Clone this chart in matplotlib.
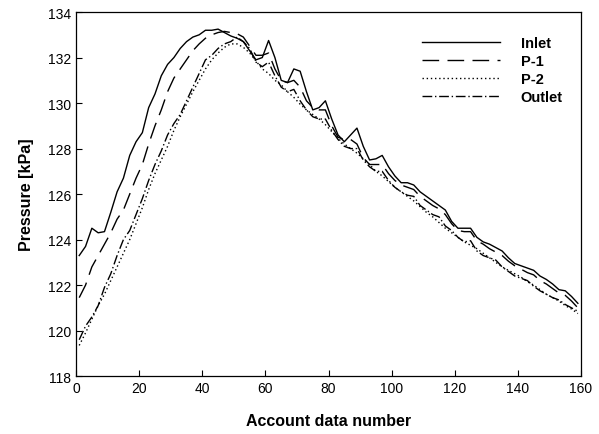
import numpy as np
import matplotlib.pyplot as plt

plt.rcParams['font.family'] = ['Liberation Sans', 'DejaVu Sans']

# account data number (every second sample)
x = np.arange(1, 161, 2)

inlet = [123.3, 123.7, 124.5, 124.3, 124.35, 125.2, 126.1, 126.7, 127.7, 128.3,
         128.7, 129.8, 130.4, 131.2, 131.7, 132.0, 132.4, 132.7, 132.9, 133.0,
         133.2, 133.2, 133.25, 133.1, 132.95, 132.85, 132.7, 132.3, 131.9, 132.0,
         132.75, 132.0, 131.0, 130.9, 131.5, 131.4, 130.5, 129.7, 129.8, 130.1,
         129.3, 128.6, 128.3, 128.6, 128.9, 128.1, 127.5, 127.55, 127.7, 127.2,
         126.8, 126.5, 126.5, 126.4, 126.1, 125.9, 125.7, 125.5, 125.3, 124.8,
         124.5, 124.5, 124.5, 124.1, 123.9, 123.8, 123.65, 123.5, 123.2, 122.95,
         122.85, 122.75, 122.65, 122.4, 122.25, 122.05, 121.8, 121.75, 121.5, 121.2]

p1 = [121.45, 122.0, 122.8, 123.3, 123.8, 124.3, 124.9, 125.3, 126.0, 126.7,
      127.3, 128.2, 129.0, 129.7, 130.5, 131.1, 131.5, 131.9, 132.3, 132.6,
      132.85, 133.0, 133.1, 133.15, 133.1, 133.05, 132.9, 132.5, 132.1, 132.1,
      132.2, 131.5, 131.0, 130.9, 131.0, 130.7, 130.1, 129.8, 129.7, 129.7,
      129.0, 128.5, 128.4, 128.4, 128.2, 127.6, 127.3, 127.3, 127.3, 126.9,
      126.6, 126.4, 126.3, 126.2, 125.9, 125.7, 125.5, 125.35, 125.1, 124.7,
      124.4, 124.35, 124.35, 123.95, 123.8, 123.6, 123.45, 123.3, 123.05, 122.85,
      122.7, 122.55, 122.45, 122.2, 122.05, 121.85, 121.65, 121.55, 121.3, 121.0]

p2 = [119.35, 119.9, 120.5, 121.1, 121.6, 122.2, 122.8, 123.4, 124.0, 124.7,
      125.4, 126.2, 126.9, 127.5, 128.1, 128.8, 129.4, 129.95, 130.5, 131.0,
      131.5, 131.9, 132.2, 132.45, 132.6, 132.6, 132.45, 132.2, 131.85, 131.5,
      131.3, 131.0, 130.8, 130.5, 130.25, 129.95, 129.7, 129.5, 129.3, 129.05,
      128.75, 128.45, 128.2, 128.0, 127.8, 127.55, 127.3, 127.0, 126.8, 126.55,
      126.3, 126.1, 125.9, 125.7, 125.45, 125.2, 125.0, 124.75, 124.5, 124.3,
      124.1, 123.9, 123.75, 123.6, 123.4, 123.2, 123.0, 122.8, 122.65, 122.5,
      122.35, 122.15, 122.0, 121.8, 121.6, 121.45, 121.3, 121.1, 120.95, 120.75]

outlet = [119.6, 120.2, 120.6, 121.1, 121.9, 122.5, 123.3, 124.0, 124.4, 125.1,
          125.8, 126.6, 127.3, 127.9, 128.6, 129.1, 129.5, 130.1, 130.7, 131.3,
          131.9, 132.1, 132.4, 132.6, 132.7, 132.9, 132.7, 132.4, 131.8, 131.6,
          131.8, 131.2, 130.7, 130.5, 130.6, 130.1, 129.7, 129.4, 129.3, 129.3,
          128.8, 128.4, 128.1, 128.0, 128.0, 127.5, 127.2, 127.0, 127.0, 126.6,
          126.3, 126.1, 125.95, 125.9, 125.5, 125.3, 125.1, 125.0, 124.6, 124.4,
          124.1, 123.9, 123.95, 123.5, 123.3, 123.2, 123.1, 122.8, 122.6, 122.4,
          122.3, 122.2, 121.95, 121.75, 121.6, 121.45, 121.35, 121.15, 121.0, 120.85]

fig = plt.figure(figsize=(5.99, 4.35), dpi=100)
ax = fig.add_axes([0.127, 0.133, 0.843, 0.837])

ax.plot(x, inlet, color='black', lw=1.0, ls='-', label='Inlet')
ax.plot(x, p1, color='black', lw=1.0, ls=(0, (12, 6)), label='P-1')
ax.plot(x, p2, color='black', lw=1.0, ls=(0, (1, 2)), label='P-2')
ax.plot(x, outlet, color='black', lw=1.0, ls=(0, (7, 2, 1, 2)), label='Outlet')

ax.set_xlim(0, 160)
ax.set_ylim(118, 134)
ax.set_xticks(range(0, 161, 20))
ax.set_yticks(range(118, 135, 2))
ax.tick_params(direction='in', length=4, labelsize=10, top=False, right=False)
for s in ax.spines.values():
    s.set_linewidth(0.9)

ax.set_xlabel('Account data number', fontsize=11.5, fontweight='bold', labelpad=13)
ax.set_ylabel('Pressure [kPa]', fontsize=11.5, fontweight='bold', labelpad=10)

leg = ax.legend(loc='upper right', bbox_to_anchor=(0.99, 0.97), frameon=False,
                handlelength=5.4, handletextpad=1.4, labelspacing=0.28,
                prop={'size': 10.5, 'weight': 'bold'})

fig.savefig('out.png', dpi=100)
